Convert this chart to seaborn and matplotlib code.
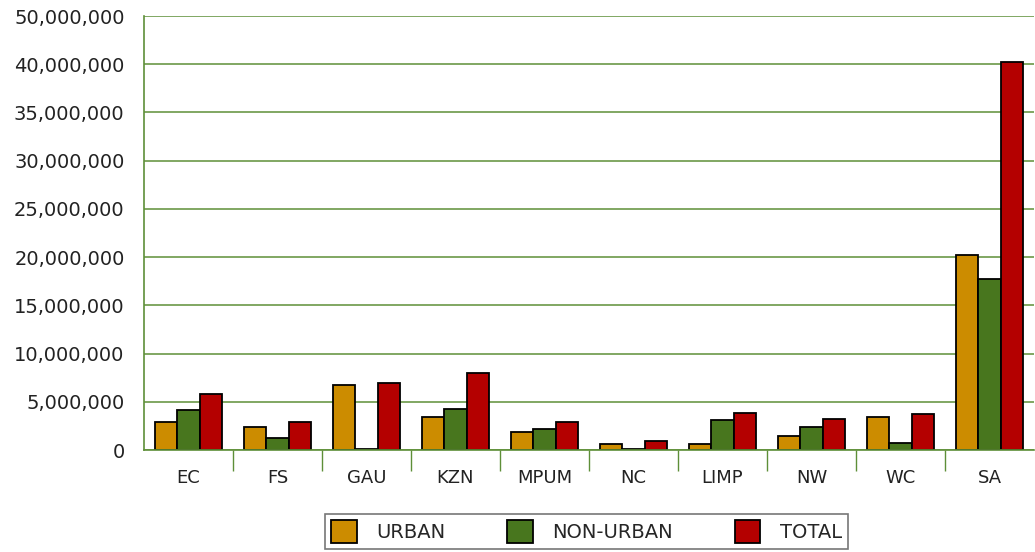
import matplotlib
matplotlib.use("Agg")
import matplotlib.pyplot as plt
import seaborn as sns
import pandas as pd
import numpy as np
from matplotlib.ticker import FixedLocator

categories = ["EC", "FS", "GAU", "KZN", "MPUM", "NC", "LIMP", "NW", "WC", "SA"]
urban = [2.9e6, 2.35e6, 6.7e6, 3.4e6, 1.83e6, 0.65e6, 0.65e6, 1.49e6, 3.45e6, 20.2e6]
non_urban = [4.15e6, 1.25e6, 0.14e6, 4.25e6, 2.18e6, 0.14e6, 3.15e6, 2.35e6, 0.72e6, 17.7e6]
total = [5.8e6, 2.9e6, 6.9e6, 7.95e6, 2.87e6, 0.9e6, 3.8e6, 3.2e6, 3.73e6, 40.2e6]
series = ["URBAN", "NON-URBAN", "TOTAL"]
ytick_values = [0, 5e6, 10e6, 15e6, 20e6, 25e6, 30e6, 35e6, 40e6, 45e6]
ytick_labels = ["0", "5,000,000", "10,000,000", "15,000,000", "20,000,000",
                "25,000,000", "30,000,000", "35,000,000", "40,000,000", "50,000,000"]

df = pd.DataFrame({
    "region": categories * 3,
    "series": sum([[s] * len(categories) for s in series], []),
    "value": urban + non_urban + total,
})

sns.set_theme(style="white")
plt.rcParams['font.family'] = ['DejaVu Sans']
colors = ["#CC8C00", "#48761E", "#B40000"]
green = "#5E8F38"

fig = plt.figure(figsize=(10.35, 5.52), dpi=100)
ax = fig.add_axes([144/1035, 1 - 450/552, (1034-144)/1035, (450-16)/552])

sns.barplot(data=df, x="region", y="value", hue="series", hue_order=series,
            palette=colors, width=0.75, edgecolor="black", linewidth=1.3,
            saturation=1, ax=ax, legend=True)

ax.set_ylim(0, 45e6)
ax.set_xlim(-0.5, 9.5)
ax.set_yticks(ytick_values)
ax.set_yticklabels(ytick_labels, fontsize=14, color="#222222")
ax.yaxis.grid(True, color=green, linewidth=1.1)
ax.set_axisbelow(True)
ax.set_xlabel("")
ax.set_ylabel("")
ax.tick_params(axis="y", length=0, pad=14)
ax.tick_params(axis="x", which="major", length=0, pad=14, labelsize=13, labelcolor="#222222")
for lbl in ax.get_xticklabels():
    lbl.set_fontstretch("expanded")
ax.xaxis.set_minor_locator(FixedLocator(np.arange(0.5, 9.5, 1.0)))
ax.tick_params(axis="x", which="minor", length=15, width=1, color=green, bottom=True)
for side in ["top", "right"]:
    ax.spines[side].set_visible(False)
for side in ["left", "bottom"]:
    ax.spines[side].set_color(green)
    ax.spines[side].set_linewidth(1.2)

handles, labels = ax.get_legend_handles_labels()
ax.get_legend().remove()
leg = fig.legend(handles, labels, loc="center", bbox_to_anchor=(586.5/1035, 1 - 531.5/552),
                 ncol=3, frameon=True, fontsize=14, handlelength=1.3, handleheight=1.4,
                 columnspacing=3.2, handletextpad=1.0, borderpad=0.3, fancybox=False,
                 edgecolor="#555555")
leg.get_frame().set_linewidth(1.2)

fig.savefig("out.png", dpi=100)
